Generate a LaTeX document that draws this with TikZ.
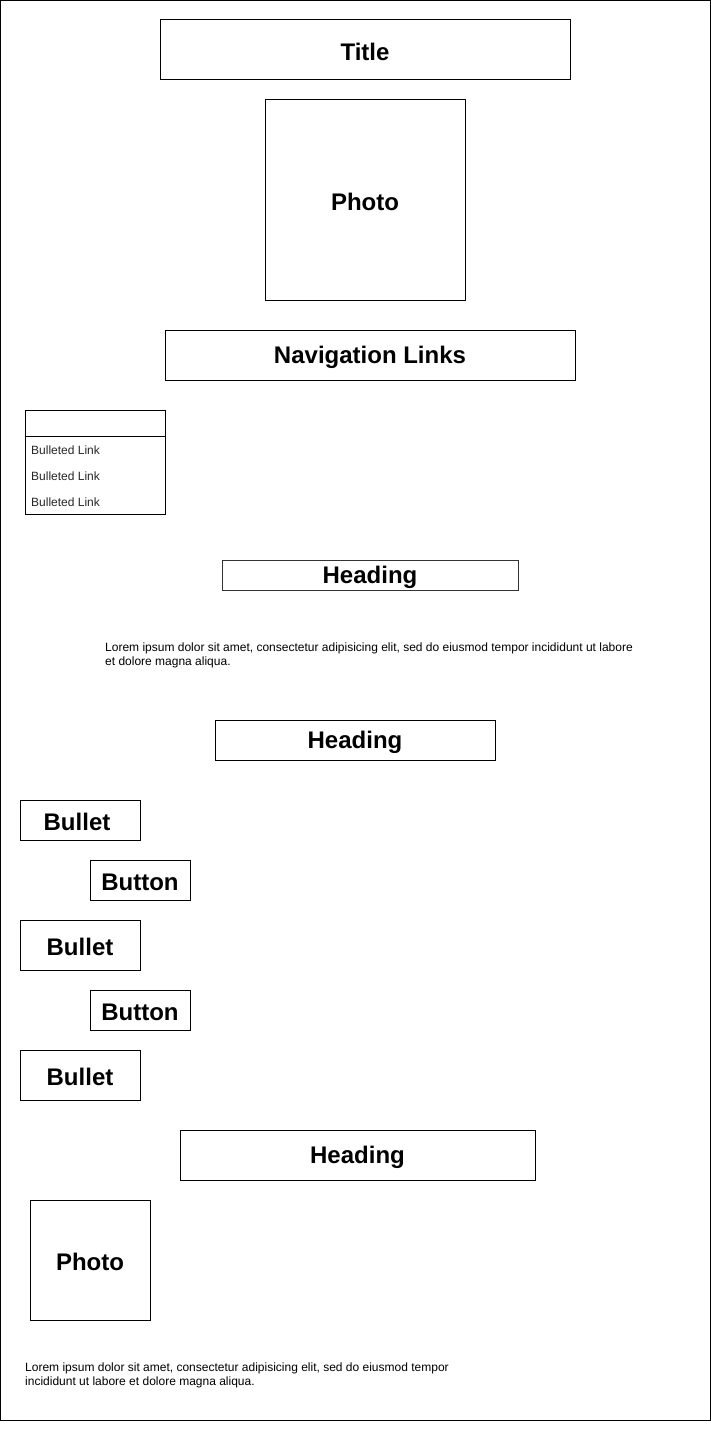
\documentclass[tikz,border=0pt]{standalone}
\usepackage{fontspec}
\setmainfont{Liberation Sans}
\begin{document}
\begin{tikzpicture}[x=1pt,y=-1pt,
  box/.style={draw=black,line width=1pt,inner sep=0pt},
  big/.style={font=\fontsize{24}{28}\selectfont\bfseries,yshift=-2pt},
  small/.style={font=\fontsize{12}{14}\selectfont,text=black!85,inner sep=0pt,anchor=west},
  lorem/.style={font=\fontsize{12}{14}\selectfont,inner sep=0pt,anchor=north west,align=left}]
\useasboundingbox (0,0) rectangle (711,1431);
\draw[line width=1pt] (0.5,0.5) rectangle (710,1420);
% boxes
\draw[box] (160,20) rectangle (570,80) node[midway,big] (title) {Title};
\draw[box] (265,100) rectangle (465,300) node[midway,big] (photo1) {Photo};
\draw[box] (165,330) rectangle (575,380) node[midway,big] (nav) {Navigation Links};
\draw[box] (25,410) rectangle (165,514);
\draw[line width=1pt] (25,436) -- (165,436);
\node[small] (l1) at (31,450) {Bulleted Link};
\node[small] (l2) at (31,476) {Bulleted Link};
\node[small] (l3) at (31,502) {Bulleted Link};
\draw[box,draw=black!80] (222,560) rectangle (518,590) node[midway,big] (h1) {Heading};
\node[lorem] (lorem1) at (105,643) {Lorem ipsum dolor sit amet, consectetur adipisicing elit, sed do eiusmod tempor incididunt ut labore\\et dolore magna aliqua.};
\draw[box] (215,720) rectangle (495,760) node[midway,big] (h2) {Heading};
\draw[box] (20,800) rectangle (140,840) node[midway,big,xshift=-3pt] (b1) {Bullet};
\draw[box] (90,860) rectangle (190,900) node[midway,big] (bt1) {Button};
\draw[box] (20,920) rectangle (140,970) node[midway,big] (b2) {Bullet};
\draw[box] (90,990) rectangle (190,1030) node[midway,big] (bt2) {Button};
\draw[box] (20,1050) rectangle (140,1100) node[midway,big] (b3) {Bullet};
\draw[box] (180,1130) rectangle (535,1180) node[midway,big] (h3) {Heading};
\draw[box] (30,1200) rectangle (150,1320) node[midway,big] (photo2) {Photo};
\node[lorem] (lorem2) at (25,1363) {Lorem ipsum dolor sit amet, consectetur adipisicing elit, sed do eiusmod tempor\\incididunt ut labore et dolore magna aliqua.};
\end{tikzpicture}
\end{document}
